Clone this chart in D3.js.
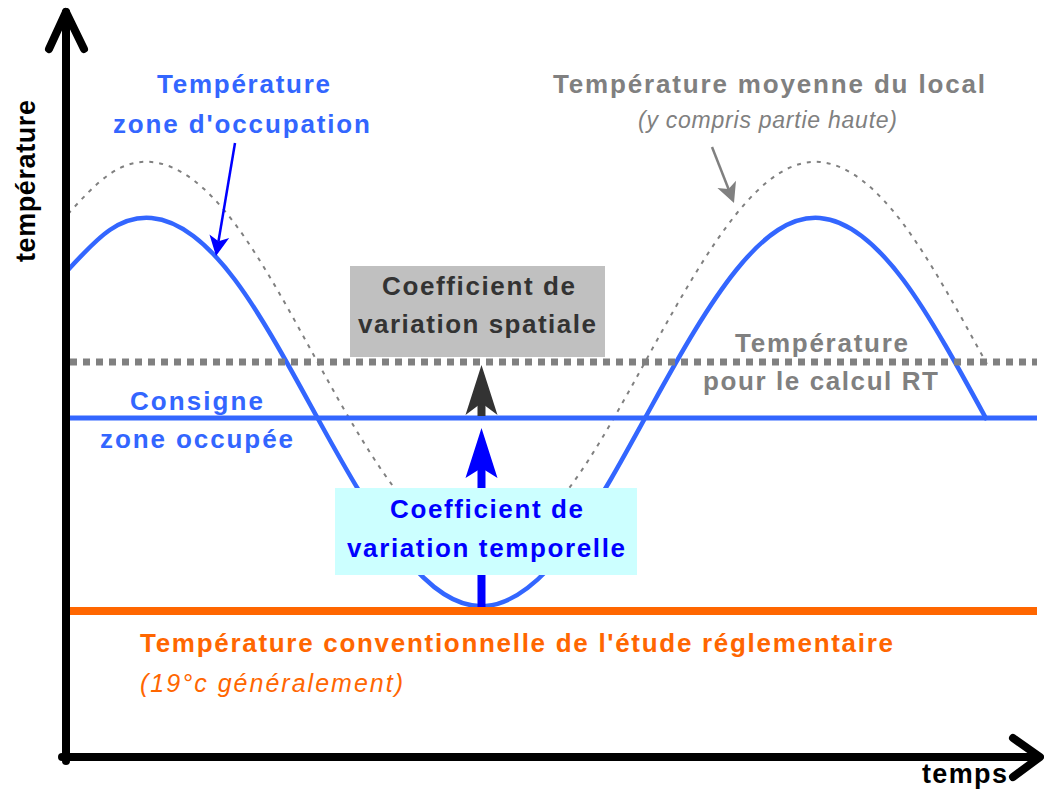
<!DOCTYPE html>
<html><head><meta charset="utf-8">
<script src="https://cdn.jsdelivr.net/npm/d3@7"></script>
<style>body{margin:0;background:#fff}svg{display:block}</style>
</head><body>
<script>
// ---- data ----
const timeSteps = [0,1,2,3,4,5,6,7,8,9,10,11,12,13,14,15,16,17,18,19,20,21,22];
const zoneTemp  = [49.0,53.0,54.2,52.4,48.0,41.5,34.0,26.7,20.6,16.6,15.4,17.2,21.6,28.1,35.6,42.9,49.0,53.0,54.2,52.4,48.0,41.5,34.0];
const meanTemp  = [54.6,58.6,59.8,58.0,53.6,47.1,39.6,32.3,26.2,22.2,21.0,22.8,27.2,33.7,41.2,48.5,54.6,58.6,59.8,58.0,53.6,47.1,39.6];
const setpointTemp = 34.2;
const rtTemp = 39.8;
const regTemp = 14.9;
const troughTime = 9.9;
const timeSpan = [0, 23.2];
const tempSpan = [0, 75];

const axisLabels = ["température", "temps"];
const zoneLabel = ["Température", "zone d'occupation"];
const meanLabel = ["Température moyenne du local", "(y compris partie haute)"];
const spatialLabel = ["Coefficient de", "variation spatiale"];
const temporalLabel = ["Coefficient de", "variation temporelle"];
const rtLabel = ["Température", "pour le calcul RT"];
const setpointLabel = ["Consigne", "zone occupée"];
const regLabel = ["Température conventionnelle de l'étude réglementaire", "(19°c généralement)"];

// ---- drawing ----
const W = 1044, H = 793;
const svg = d3.select("body").append("svg").attr("width", W).attr("height", H);
const x = d3.scaleLinear().domain(timeSpan).range([68, 1037]);
const y = d3.scaleLinear().domain(tempSpan).range([760, 10]);
const FONT = "'Liberation Sans', Arial, Helvetica, sans-serif";

const BLUE = "#3366ff", GRAY = "#808080", DARK = "#333333", PURE = "#0000ff", ORANGE = "#ff6600";

const lineGen = d3.line().x((d,i)=>x(timeSteps[i])).y(d=>y(d)).curve(d3.curveNatural);

// mean temperature (dotted)
svg.append("path").attr("d", lineGen(meanTemp))
  .attr("fill","none").attr("stroke",GRAY).attr("stroke-width",2)
  .attr("stroke-dasharray","4,6");

// zone temperature
svg.append("path").attr("d", lineGen(zoneTemp))
  .attr("fill","none").attr("stroke",BLUE).attr("stroke-width",4.5);

// setpoint line
svg.append("line").attr("x1",x(timeSpan[0])).attr("x2",x(timeSpan[1]))
  .attr("y1",y(setpointTemp)).attr("y2",y(setpointTemp))
  .attr("stroke",BLUE).attr("stroke-width",5);

// RT dotted line
svg.append("line").attr("x1",x(timeSpan[0])+2).attr("x2",x(timeSpan[1]))
  .attr("y1",y(rtTemp)).attr("y2",y(rtTemp))
  .attr("stroke",GRAY).attr("stroke-width",7).attr("stroke-dasharray","7,6");

// regulatory line
svg.append("line").attr("x1",x(timeSpan[0])).attr("x2",x(timeSpan[1]))
  .attr("y1",y(regTemp)).attr("y2",y(regTemp))
  .attr("stroke",ORANGE).attr("stroke-width",8);

// notched arrowhead helper
function head(g, tx, ty, ang, len, half, notch, color){
  const c = Math.cos(ang), s = Math.sin(ang);
  const pt = (a,b)=>[tx - a*c + b*(-s), ty - a*s + b*c];
  const p = [pt(0,0), pt(len, half), pt(notch, 0), pt(len, -half)];
  g.append("path").attr("d","M"+p.map(q=>q.join(",")).join("L")+"Z").attr("fill",color);
}
function arrow(x1,y1,x2,y2,color,w,len,half,notch){
  const ang = Math.atan2(y2-y1, x2-x1);
  const ex = x2 - Math.cos(ang)*notch, ey = y2 - Math.sin(ang)*notch;
  svg.append("line").attr("x1",x1).attr("y1",y1).attr("x2",ex).attr("y2",ey)
    .attr("stroke",color).attr("stroke-width",w);
  head(svg, x2, y2, ang, len, half, notch, color);
}

const xa = x(troughTime);
// spatial coefficient arrow (dark)
arrow(xa, y(setpointTemp)-2, xa, y(rtTemp)+3, DARK, 8, 50, 16, 38);
// temporal coefficient arrow (blue)
arrow(xa, y(regTemp)-4, xa, y(setpointTemp)+10, PURE, 8, 50, 16, 40);

// boxes
svg.append("rect").attr("x",350).attr("y",266).attr("width",255).attr("height",91).attr("fill","#c0c0c0");
svg.append("rect").attr("x",335).attr("y",488).attr("width",302).attr("height",87).attr("fill","#ccffff");

// thin annotation arrows
arrow(235,143,216,256,PURE,2.5,20,10,15);
arrow(712,147,734,203,GRAY,2.5,20,10,15);

// axes
const axG = svg.append("g").attr("stroke","#000").attr("stroke-width",8)
  .attr("fill","none").attr("stroke-linecap","round").attr("stroke-linejoin","round");
axG.append("path").attr("d","M66,761 L66,12");
axG.append("path").attr("d","M49,49 L66,12 L84,49");
axG.append("path").attr("d","M62,757 L1038,757");
axG.append("path").attr("d","M1013,738 L1040,757 L1013,777");

// text helper
function label(txt, cx, base, opt){
  const t = svg.append("text").text(txt)
    .attr("x",cx).attr("y",base)
    .attr("font-family",FONT).attr("font-size",opt.size||26)
    .attr("font-weight",opt.italic?"normal":"bold")
    .attr("font-style",opt.italic?"italic":"normal")
    .attr("fill",opt.color)
    .attr("text-anchor",opt.anchor||"middle");
  if (opt.len) t.attr("textLength",opt.len).attr("lengthAdjust","spacing");
  if (opt.rot) t.attr("transform",`rotate(${opt.rot},${cx},${base})`);
  return t;
}

label(zoneLabel[0], 243.5, 93, {color:BLUE, len:173});
label(zoneLabel[1], 241.5, 133, {color:BLUE, len:257});
label(meanLabel[0], 769, 93, {color:GRAY, len:432});
label(meanLabel[1], 767.5, 128, {color:GRAY, italic:true, size:23, len:259});
label(spatialLabel[0], 478.5, 295, {color:DARK, len:193});
label(spatialLabel[1], 477, 333, {color:DARK, len:238});
label(rtLabel[0], 821.5, 352, {color:GRAY, len:173});
label(rtLabel[1], 820.5, 390, {color:GRAY, len:235});
label(setpointLabel[0], 196.5, 410, {color:BLUE, len:133});
label(setpointLabel[1], 196.5, 448, {color:BLUE, len:193});
label(temporalLabel[0], 486.5, 518, {color:PURE, len:193});
label(temporalLabel[1], 486, 557, {color:PURE, len:278});
label(regLabel[0], 140, 652, {color:ORANGE, anchor:"start", len:753});
label(regLabel[1], 140, 692, {color:ORANGE, italic:true, size:25, anchor:"start", len:263});
label(axisLabels[0], 35, 181, {color:"#000", size:27, len:162, rot:-90});
label(axisLabels[1], 964.5, 783, {color:"#000", size:27, len:85});
</script>
</body></html>
